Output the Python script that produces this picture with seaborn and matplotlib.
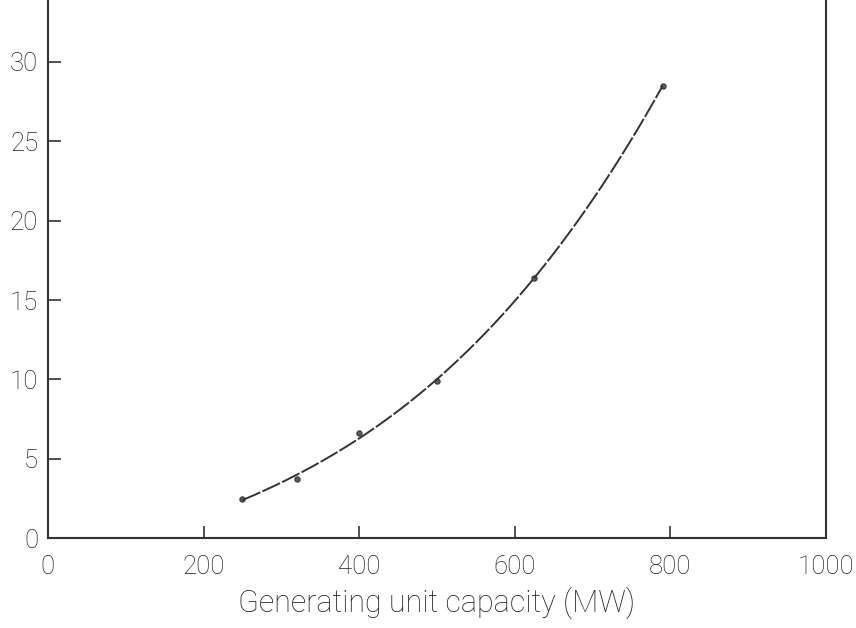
import numpy as np
import pandas as pd
import seaborn as sns
import matplotlib.pyplot as plt

# values
capacity_mw = [250, 320, 400, 500, 625, 790]
cost_values = [2.5, 3.7, 6.6, 9.9, 16.4, 28.5]
x_ticks = [0, 200, 400, 600, 800, 1000]
y_ticks = [0, 5, 10, 15, 20, 25, 30]
x_label = "Generating unit capacity (MW)"

df = pd.DataFrame({"capacity": capacity_mw, "value": cost_values})

sns.set_style("white")
plt.rcParams["font.family"] = ["Roboto", "DejaVu Sans"]
plt.rcParams["font.weight"] = "light"

ink = "#333333"
fig = plt.figure(figsize=(8.56, 6.28), dpi=100)
ax = fig.add_axes([0.056, 0.143, 0.909, 0.857])

# smooth fitted curve through the points, dashed like the scan
sns.regplot(data=df, x="capacity", y="value", order=3, ci=None, truncate=True,
            scatter_kws={"s": 14, "color": ink, "marker": "s"},
            line_kws={"color": ink, "lw": 1.4, "ls": (0, (10, 1.2))}, ax=ax)

ax.set_xlim(0, 1000)
ax.set_ylim(0, 33.9)
ax.set_xticks(x_ticks)
ax.set_yticks(y_ticks)
ax.set_xlabel(x_label, fontsize=22, color="#222222", labelpad=6,
              fontweight="light")
ax.set_ylabel("")
ax.tick_params(axis="x", bottom=True, direction="in", length=9, width=1.2,
               pad=12, labelsize=18.5, color=ink, labelcolor="#222222")
ax.tick_params(axis="y", left=True, direction="in", length=9, width=1.2,
               pad=7, labelsize=18.5, color=ink, labelcolor="#222222")

for side in ["left", "right", "bottom"]:
    ax.spines[side].set_color(ink)
    ax.spines[side].set_linewidth(1.5)
ax.spines["top"].set_visible(False)

fig.savefig("out.png", dpi=100, facecolor="white")
